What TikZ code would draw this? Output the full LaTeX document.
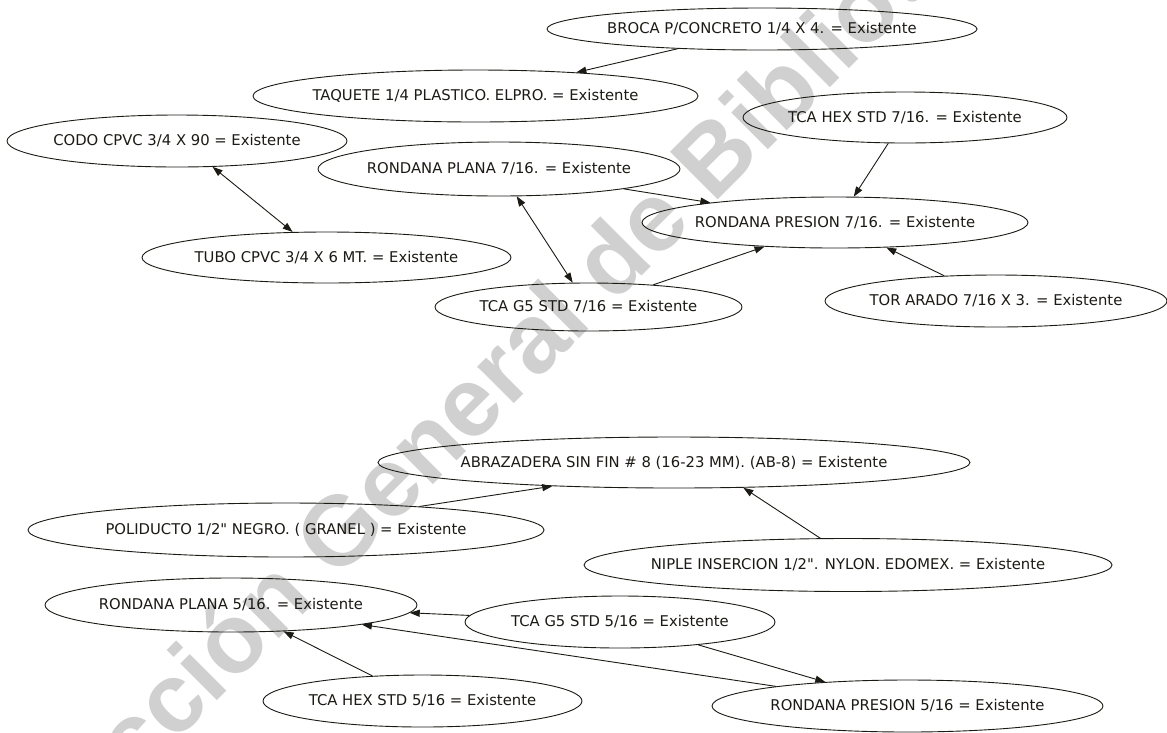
\documentclass[tikz,border=0pt]{standalone}
\usepackage{fontspec}
\newfontfamily\itemfont{DejaVu Sans}
\newfontfamily\wmfont{Liberation Sans}
\usetikzlibrary{shapes.geometric,arrows.meta}

\definecolor{wmgray}{RGB}{208,208,208}
\definecolor{inkc}{RGB}{28,26,20}

\tikzset{
  item/.style={draw=inkc, ellipse, inner sep=0pt, line width=0.9pt,
               font=\itemfont\fontsize{14.8}{16}\selectfont, text=inkc},
  link/.style={draw=inkc, line width=0.9pt, -{Triangle[length=10pt,width=7pt]}},
  both/.style={draw=inkc, line width=0.9pt,
               {Triangle[length=10pt,width=7pt]}-{Triangle[length=10pt,width=7pt]}},
  mark text/.style={text=wmgray, font=\wmfont\bfseries\fontsize{98}{98}\selectfont,
                    anchor=base west, rotate=45, inner sep=0pt}
}

% item node: name, centre, label, full width, full height
\newcommand\itemnode[5]{%
  \node[item, minimum width=#4pt, minimum height=#5pt] (#1) at (#2) {\makebox[0pt]{#3}};}

\begin{document}
\begin{tikzpicture}[x=1pt,y=-1pt]
  \useasboundingbox (0,0) rectangle (1167,732);
  \fill[white] (0,0) rectangle (1167,732);

  % background stamp
  \begin{scope}
    \clip (0,0) rectangle (1167,732);
    \node[mark text] (stamp) at (1,917) {Dirección General de Bibliotecas};
  \end{scope}

  % upper group
  \itemnode{broca}{762,29}{BROCA P/CONCRETO 1/4 X 4. = Existente}{430}{42}
  \itemnode{taquete}{475.5,96}{TAQUETE 1/4 PLASTICO. ELPRO. = Existente}{445}{52}
  \itemnode{codo}{177,141}{CODO CPVC 3/4 X 90 = Existente}{340}{52}
  \itemnode{hexsiete}{905,117.5}{TCA HEX STD 7/16. = Existente}{324}{51}
  \itemnode{planasiete}{499,169}{RONDANA PLANA 7/16. = Existente}{362}{54}
  \itemnode{presionsiete}{835,222.5}{RONDANA PRESION 7/16. = Existente}{386}{51}
  \itemnode{tubo}{326.5,257.5}{TUBO CPVC 3/4 X 6 MT. = Existente}{369}{51}
  \itemnode{gsiete}{588.5,307}{TCA G5 STD 7/16 = Existente}{307}{48}
  \itemnode{tor}{996,301}{TOR ARADO 7/16 X 3. = Existente}{342}{52}

  % lower group
  \itemnode{abra}{674,462.5}{ABRAZADERA SIN FIN \# 8 (16-23 MM). (AB-8) = Existente}{592}{51}
  \itemnode{poli}{286,530}{POLIDUCTO 1/2" NEGRO. ( GRANEL ) = Existente}{516}{54}
  \itemnode{niple}{848,565}{NIPLE INSERCION 1/2". NYLON. EDOMEX. = Existente}{528}{53}
  \itemnode{planacinco}{231,605}{RONDANA PLANA 5/16. = Existente}{372}{54}
  \itemnode{gcinco}{620,622}{TCA G5 STD 5/16 = Existente}{310}{52}
  \itemnode{hexcinco}{422.5,701}{TCA HEX STD 5/16 = Existente}{319}{52}
  \itemnode{presioncinco}{907.5,706}{RONDANA PRESION 5/16 = Existente}{391}{52}

  % connectors
  \draw[link] (broca) -- (taquete);
  \draw[both] (codo.-36) -- (tubo.143);
  \draw[both] (planasiete) -- (gsiete);
  \draw[link] (planasiete) -- (presionsiete);
  \draw[link] (hexsiete.-123) -- (presionsiete.54);
  \draw[link] (gsiete) -- (presionsiete);
  \draw[link] (tor) -- (presionsiete);

  \draw[link] (poli.10) -- (abra.191);
  \draw[link] (niple.136) -- (abra.-20);
  \draw[link] (gcinco) -- (planacinco);
  \draw[link] (presioncinco) -- (planacinco);
  \draw[link] (hexcinco) -- (planacinco);
  \draw[link] (gcinco) -- (presioncinco);
\end{tikzpicture}
\end{document}
